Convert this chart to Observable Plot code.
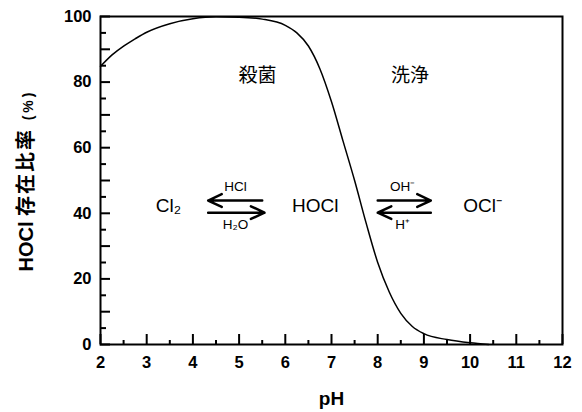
<!DOCTYPE html>
<html><head><meta charset="utf-8">
<script src="https://cdn.jsdelivr.net/npm/d3@7"></script>
<script src="https://cdn.jsdelivr.net/npm/@observablehq/plot@0.6"></script>
<style>body{margin:0;background:#fff}</style>
</head><body><div id="chart"></div>
<script>
// HOCl fraction (%) vs pH
const pH   = [2.0, 2.25, 2.5, 2.75, 3.0, 3.5, 4.0, 4.5, 5.0, 5.5, 6.0, 6.25, 6.5, 6.75, 7.0, 7.25, 7.5, 7.75, 8.0, 8.25, 8.5, 8.75, 9.0, 9.5, 10.0, 10.4];
const hocl = [84.8, 88.3, 91.0, 93.2, 95.2, 97.8, 99.3, 99.9, 99.8, 99.2, 97.3, 95.0, 91.0, 84.0, 74.0, 62.0, 50.0, 37.0, 25.0, 16.0, 9.5, 5.5, 3.3, 1.5, 0.5, 0.0];

const xTicks = [2, 3, 4, 5, 6, 7, 8, 9, 10, 11, 12];
const xMinor = [2.5, 3.5, 4.5, 5.5, 6.5, 7.5, 8.5, 9.5, 10.5, 11.5];
const yTicks = [0, 20, 40, 60, 80, 100];
const yMid   = [10, 30, 50, 70, 90];
const yMinor = [5, 15, 25, 35, 45, 55, 65, 75, 85, 95];

// annotations
const regionText = ["殺菌", "洗浄"];
const regionX    = [5.4, 8.7];
const regionY    = [82, 82];
const speciesText = ["Cl₂", "HOCl", "OCl⁻"];
const speciesX    = [3.47, 6.65, 10.27];
const speciesY    = [42.4, 42.4, 42.4];
const reagentText = ["HCl", "H₂O", "OH⁻", "H⁺"];
const reagentX    = [4.92, 4.92, 8.54, 8.54];
const reagentY    = [48.2, 36.6, 48.2, 36.6];
const arrowX1 = [5.5, 4.33, 8.0, 9.15];
const arrowX2 = [4.33, 5.55, 9.15, 8.0];
const arrowY  = [43.9, 40.2, 43.9, 40.2];

const W = 582, H = 412, mL = 100, mR = 20, mT = 16, mB = 68;
const fw = W - mL - mR, fh = H - mT - mB;
const xDom = [2, 12], yDom = [0, 100];
const lenY = px => px / fh * (yDom[1] - yDom[0]);
const lenX = px => px / fw * (xDom[1] - xDom[0]);

const curve = pH.map((p, i) => ({pH: p, v: hocl[i]}));
const regions = regionText.map((t, i) => ({t, x: regionX[i], y: regionY[i]}));
const species = speciesText.map((t, i) => ({t, x: speciesX[i], y: speciesY[i]}));
const reagents = reagentText.map((t, i) => ({t, x: reagentX[i], y: reagentY[i]}));
const arrows = arrowX1.map((x1, i) => ({x1, x2: arrowX2[i], y: arrowY[i]}));

const font = "'Liberation Sans', Arial, 'Noto Sans CJK JP', sans-serif";

const chart = Plot.plot({
  width: W, height: H,
  marginLeft: mL, marginRight: mR, marginTop: mT, marginBottom: mB,
  style: {fontFamily: font, background: "#fff", color: "#000"},
  x: {domain: xDom},
  y: {domain: yDom},
  marks: [
    Plot.axisX(xTicks, {tickSize: 0, tickPadding: 12, fontSize: 16.5, fontWeight: "bold", label: null}),
    Plot.axisY(yTicks, {tickSize: 0, tickPadding: 9, fontSize: 16.5, fontWeight: "bold", label: null}),
    // inward ticks
    Plot.ruleX(xTicks, {x: d => d, y1: 0, y2: lenY(10), stroke: "#000", strokeWidth: 2}),
    Plot.ruleX(xMinor, {x: d => d, y1: 0, y2: lenY(4), stroke: "#000", strokeWidth: 2}),
    Plot.ruleY(yTicks, {y: d => d, x1: 2, x2: 2 + lenX(10), stroke: "#000", strokeWidth: 2}),
    Plot.ruleY(yMid, {y: d => d, x1: 2, x2: 2 + lenX(10), stroke: "#000", strokeWidth: 2}),
    Plot.ruleY(yMinor, {y: d => d, x1: 2, x2: 2 + lenX(6), stroke: "#000", strokeWidth: 2}),
    Plot.line(curve, {x: "pH", y: "v", curve: "monotone-x", stroke: "#000", strokeWidth: 1.5}),
    Plot.frame({stroke: "#000", strokeWidth: 2}),
    Plot.text(regions, {x: "x", y: "y", text: "t", fontSize: 19, fill: "#000"}),
    Plot.text(species, {x: "x", y: "y", text: "t", fontSize: 19, fill: "#000"}),
    Plot.text(reagents, {x: "x", y: "y", text: "t", fontSize: 13.5, fill: "#000"}),
    Plot.arrow(arrows, {x1: "x1", x2: "x2", y1: "y", y2: "y", stroke: "#000", strokeWidth: 2.5, headLength: 9, headAngle: 50}),
    Plot.text(["pH"], {frameAnchor: "bottom", dy: 60, fontSize: 19, fontWeight: "bold", fill: "#000"}),
    Plot.text(["HOCl 存在比率 (%)"], {frameAnchor: "left", dx: -74, rotate: -90, textAnchor: "middle", fontSize: 20, fontWeight: "bold", fill: "#000"})
  ]
});

// make "(%)" smaller in the y label
d3.select(chart).selectAll("text").each(function() {
  const t = d3.select(this);
  if (t.text() === "HOCl 存在比率 (%)") {
    t.text(null);
    t.append("tspan").text("HOCl ");
    t.append("tspan").attr("letter-spacing", 2).text("存在比率 ");
    t.append("tspan").attr("font-size", 14).attr("letter-spacing", 3).text("(%)");
  }
});

document.getElementById("chart").appendChild(chart);
</script>
</body></html>
